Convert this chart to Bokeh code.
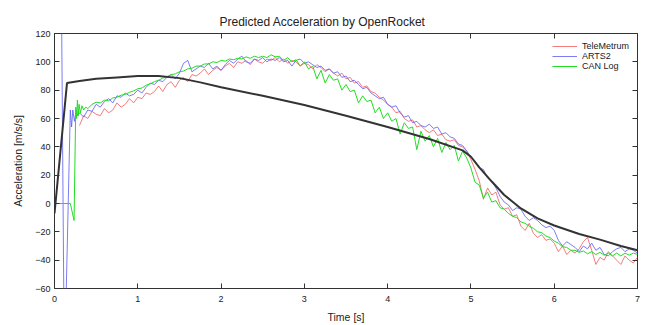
import numpy as np
from bokeh.plotting import figure
from bokeh.models import Range1d, LinearAxis, FixedTicker, Legend, LegendItem
from bokeh.embed import file_html
from bokeh.resources import INLINE

# ---------------- data ----------------
x_ticks = [0, 1, 2, 3, 4, 5, 6, 7]
y_ticks = [-60, -40, -20, 0, 20, 40, 60, 80, 100, 120]

# OpenRocket prediction
rocket_t = [0.0, 0.15, 0.3, 0.5, 0.75, 1.0, 1.25, 1.5, 1.75, 2.0, 2.5, 3.0, 3.5, 4.0, 4.5,
            4.9, 5.0, 5.1, 5.25, 5.4, 5.6, 5.8, 6.0, 6.3, 6.55, 6.8, 7.0]
rocket_a = [-7, 85, 86.5, 88, 89, 90, 90, 88.5, 85.5, 82, 76, 69.5, 62, 54, 45.5,
            37.5, 33, 25.5, 15.5, 6, -3.5, -10.5, -15.5, -21.5, -25.5, -30, -33]

# TeleMetrum, samples every 0.05 s from 0.30 s
tm_start = 0.30
tm_a = [55, 62, 60, 65, 63, 62, 67, 64, 66, 71,
        68, 70, 74, 71, 75, 74, 78, 77, 79, 83,
        79, 84, 86, 82, 87, 89, 86, 91, 90, 92,
        95, 91, 94, 96, 94, 97, 99, 96, 100, 99,
        101, 98, 102, 100, 99, 102, 101, 103, 100, 102,
        99, 101, 100, 97, 99, 98, 95, 98, 96, 93,
        95, 92, 90, 92, 88, 89, 85, 86, 82, 83,
        79, 78, 75, 73, 70, 68, 64, 65, 60, 58,
        59, 54, 55, 52, 50, 52, 48, 49, 45, 44,
        45, 41, 40, 37, 31, 24, 16, 3, 11, 6,
        8, -1, -4, -3, -9, -8, -16, -19, -14, -21,
        -24, -22, -26, -25, -28, -34, -30, -36, -33, -35,
        -32, -27, -24, -33, -43, -38, -40, -34, -37, -40,
        -43, -37, -40, -42, -38]

# ARTS2: launch transient, then samples every 0.05 s from 0.30 s
arts_t0 = [0.07, 0.085, 0.115, 0.13, 0.19, 0.205, 0.22, 0.24, 0.26, 0.28]
arts_a0 = [140, 135, -90, -90, 66, 54, 66, 58, 66, 62]
arts_start = 0.30
arts_a = [64, 61, 66, 65, 70, 68, 72, 74, 71, 76,
          75, 78, 76, 77, 80, 78, 82, 85, 84, 87,
          86, 89, 91, 88, 92, 99, 101, 93, 95, 97,
          96, 99, 95, 97, 94, 98, 101, 99, 102, 104,
          100, 99, 102, 101, 103, 100, 102, 101, 103, 100,
          101, 97, 101, 102, 99, 100, 98, 96, 97, 94,
          95, 92, 93, 89, 90, 86, 87, 84, 81, 82,
          78, 76, 74, 75, 70, 68, 69, 64, 61, 62,
          57, 58, 55, 54, 56, 53, 54, 49, 50, 47,
          46, 42, 41, 37, 33, 30, 25, 24, 18, 16,
          11, 5, 1, -1, -5, -3, -4, -9, -12, -10,
          -12, -15, -17, -16, -19, -26, -30, -27, -29, -31,
          -34, -30, -32, -28, -33, -31, -36, -37, -34, -32,
          -31, -34, -32, -33, -35]

# CAN Log: launch transient, then samples every 0.05 s from 0.45 s
can_t0 = [0.0, 0.1, 0.19, 0.235, 0.255, 0.265, 0.275, 0.285, 0.295, 0.31, 0.33, 0.35, 0.375, 0.4]
can_a0 = [0, 0, 0, -12, 68, 60, 73, 62, 70, 64, 69, 66, 68, 67]
can_start = 0.45
can_a = [70, 71.5, 71, 73, 72.5, 74.5, 75, 76.5, 77, 78.5,
         79.5, 81, 81.5, 83.5, 84.5, 86, 87, 88.5, 89.5, 91,
         91.5, 93, 93.5, 95, 95.5, 97, 97, 98.5, 98.5, 100,
         99.5, 101, 100.5, 102, 101.5, 102.5, 102, 103.5, 102.5, 104,
         103, 104, 103, 105, 103.5, 104, 101, 103, 100, 101.5,
         97, 100, 95, 97, 88, 94, 85, 91, 87, 88,
         80, 84, 79, 80, 71, 76, 72, 73, 64, 68,
         60, 64, 58, 60, 49, 57, 53, 54, 38, 51,
         44, 48, 40, 46, 36, 43, 38, 41, 30, 37,
         32, 25, 15, 13, 4, 8, 1, 2, -3, -4,
         -7, -9, -10, -13, -14, -16, -17.5, -20, -20.5, -23,
         -24, -26.5, -28, -30.5, -31, -33, -33, -34.5, -33.5, -35.5,
         -34, -36, -34.5, -36.5, -35, -37, -35, -37, -35, -36.5,
         -35, -36]


def sample_times(start, n):
    return [round(start + 0.05 * i, 3) for i in range(n)]


tm_t = sample_times(tm_start, len(tm_a))
arts_t = arts_t0 + sample_times(arts_start, len(arts_a))
arts_all = arts_a0 + arts_a
can_t = can_t0 + sample_times(can_start, len(can_a))
can_all = can_a0 + can_a

FONT = "Liberation Sans"
TXT = "#222222"

p = figure(width=650, height=325, x_range=Range1d(0, 7), y_range=Range1d(-60, 120),
           output_backend="svg", toolbar_location=None,
           title="Predicted Acceleration by OpenRocket",
           x_axis_label="Time [s]", y_axis_label="Acceleration [m/s/s]",
           min_border_left=54, min_border_right=13, min_border_top=33, min_border_bottom=36)

p.title.align = "left"
p.title.offset = 165
p.title.text_font = FONT
p.title.text_font_size = "12px"
p.title.text_font_style = "normal"
p.title.text_color = TXT

p.grid.visible = False
p.outline_line_color = "#333333"
p.outline_line_width = 1
p.background_fill_color = "white"
p.border_fill_color = "white"

r_tm = p.line(tm_t, tm_a, line_color="#f05a5a", line_width=0.8)
r_arts = p.line(arts_t, arts_all, line_color="#5a5af0", line_width=0.8)
r_can = p.line(can_t, can_all, line_color="#22dd22", line_width=1.0)
r_rock = p.line(rocket_t, rocket_a, line_color="#333333", line_width=2)

# mirrored axes (ticks only)
top_axis = LinearAxis(major_label_overrides={t: "" for t in x_ticks})
right_axis = LinearAxis(major_label_overrides={t: "" for t in y_ticks})
p.add_layout(top_axis, "above")
p.add_layout(right_axis, "right")

for ax in p.xaxis:
    ax.ticker = FixedTicker(ticks=x_ticks)
for ax in p.yaxis:
    ax.ticker = FixedTicker(ticks=y_ticks)

for ax in p.axis:
    ax.axis_line_color = None
    ax.major_tick_in = 5
    ax.major_tick_out = 0
    ax.major_tick_line_color = "#333333"
    ax.minor_tick_line_color = None
    ax.major_label_text_font = FONT
    ax.major_label_text_font_size = "9px"
    ax.major_label_text_color = TXT
    ax.axis_label_text_font = FONT
    ax.axis_label_text_font_size = "10.5px"
    ax.axis_label_text_font_style = "normal"
    ax.axis_label_text_color = TXT

p.below[0].major_label_standoff = 7
p.below[0].axis_label_standoff = 6
p.left[0].major_label_standoff = 4
p.left[0].axis_label_standoff = 8
top_axis.major_label_standoff = 0
right_axis.major_label_standoff = 0

legend = Legend(items=[LegendItem(label="TeleMetrum", renderers=[r_tm]),
                       LegendItem(label="ARTS2", renderers=[r_arts]),
                       LegendItem(label="CAN Log", renderers=[r_can])],
                location="top_right", border_line_alpha=0, background_fill_alpha=0,
                label_text_font=FONT, label_text_font_size="9px", label_text_color=TXT,
                glyph_width=25, glyph_height=10, label_height=10, spacing=0,
                padding=2, margin=6, label_standoff=5)
p.add_layout(legend)

open("out.html", "w").write(file_html(p, INLINE))
